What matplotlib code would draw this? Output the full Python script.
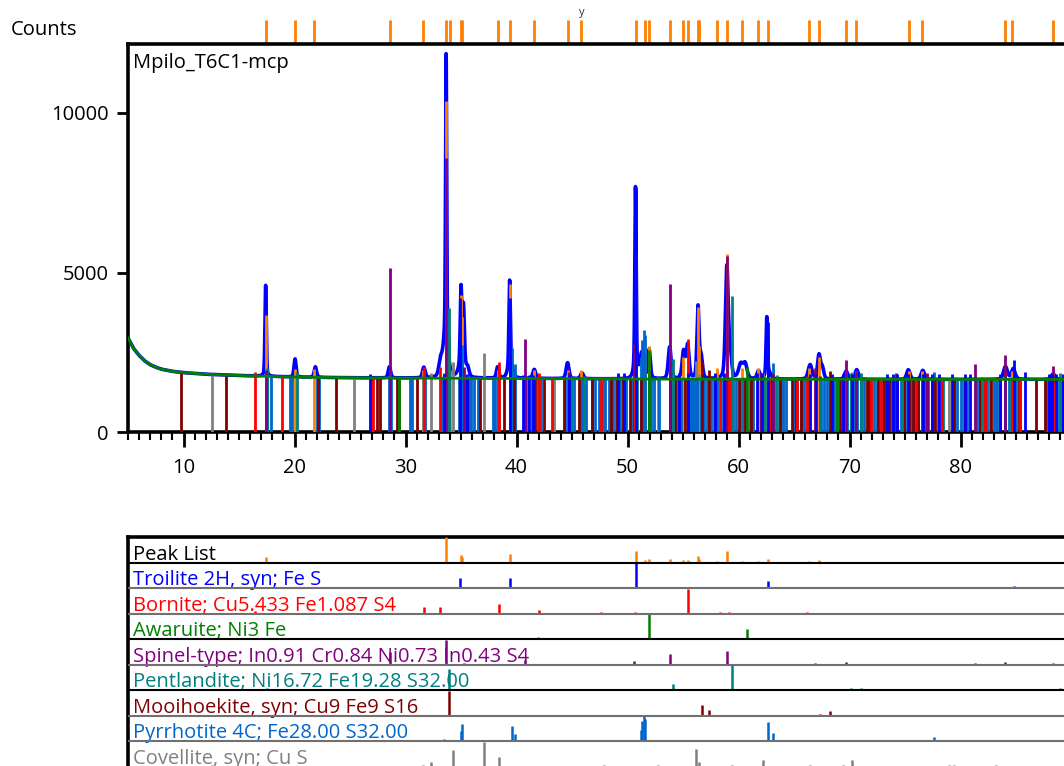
import numpy as np
import matplotlib
matplotlib.use("Agg")
import matplotlib.pyplot as plt
from matplotlib.ticker import MultipleLocator
from matplotlib.transforms import blended_transform_factory

plt.rcParams['font.family'] = ['Open Sans', 'DejaVu Sans']

# ---------------- background (2theta, counts) ----------------
bg_theta = [5, 5.5, 6, 6.5, 7, 7.5, 8, 9, 10, 12, 15, 20, 25, 30, 40, 50, 60, 70, 90]
bg_counts = [2950, 2620, 2400, 2230, 2110, 2030, 1970, 1900, 1860, 1810, 1770,
             1720, 1700, 1690, 1680, 1660, 1655, 1650, 1650]

# ---------------- measured reflections: position, net height, FWHM ----------------
meas_pos = [17.40, 20.05, 21.88, 28.55, 31.65, 33.15, 33.66, 33.60, 35.00, 35.22,
            35.10, 35.60, 38.30, 39.38, 39.45, 41.60, 44.60, 45.90, 50.72, 50.75,
            51.30, 51.95, 53.80, 55.05, 55.42, 56.35, 56.62, 58.95, 59.25, 60.20,
            60.60, 61.80, 62.55, 62.70, 66.45, 67.25, 67.55, 69.70, 70.65, 75.30,
            76.60, 84.05, 84.75, 88.35]
meas_height = [2850, 570, 330, 350, 330, 450, 8900, 1300, 2300, 1800,
               500, 250, 350, 2700, 400, 280, 500, 180, 5700, 300,
               800, 900, 1000, 850, 1050, 2200, 700, 3500, 700, 450,
               450, 250, 1800, 200, 450, 750, 350, 250, 300, 300,
               280, 400, 330, 170]
meas_fwhm = [0.14, 0.22, 0.25, 0.25, 0.28, 0.35, 0.12, 0.50, 0.16, 0.20,
             0.60, 0.30, 0.25, 0.15, 0.50, 0.30, 0.30, 0.30, 0.14, 0.45,
             0.40, 0.25, 0.30, 0.30, 0.30, 0.22, 0.30, 0.30, 0.30, 0.45,
             0.40, 0.30, 0.15, 0.50, 0.40, 0.30, 0.30, 0.35, 0.35, 0.35,
             0.35, 0.40, 0.40, 0.40]

# ---------------- peak list ----------------
pk_pos = [17.39, 20.09, 21.80, 28.56, 31.62, 33.67, 34.05, 34.98, 35.12, 38.29,
          39.42, 41.62, 44.60, 45.85, 50.73, 51.59, 51.96, 53.80, 55.03, 55.42,
          56.35, 56.45, 58.03, 58.99, 60.34, 61.78, 62.63, 66.38, 67.24, 69.66,
          70.62, 75.33, 76.57, 83.99, 84.66, 88.32]
pk_rel = [22, 3, 3, 3, 3, 100, 3, 30, 22, 3,
          34, 3, 3, 3, 45, 8, 12, 12, 8, 8,
          26, 12, 4, 45, 4, 4, 12, 4, 8, 3,
          3, 3, 3, 3, 3, 3]
pk_scale = 8700

# ---------------- reference patterns ----------------
troilite_pos = [26.8, 33.5, 34.95, 35.55, 39.4, 40.6, 41.1, 41.5, 44.7, 49.1,
                49.7, 50.75, 54.65, 55.45, 57.9, 58.7, 61.7, 62.15, 62.65, 66.4,
                66.95, 68.4, 69.4, 70.25, 73.4, 73.9, 74.25, 75.3, 76.6, 77.45,
                78.1, 79.2, 80.45, 80.9, 83.6, 84.8, 85.8, 88.0, 88.25, 88.6, 89.25]
troilite_rel = [2, 2, 42, 2, 42, 2, 2, 2, 2, 3,
                3, 100, 3, 3, 3, 3, 3, 3, 30, 3,
                3, 3, 3, 3, 3, 3, 3, 3, 3, 3,
                3, 3, 3, 3, 3, 10, 4, 3, 3, 3, 3]

bornite_pos = [16.45, 18.9, 26.9, 27.1, 31.7, 33.15, 38.45, 42.0, 43.2, 47.6,
               50.65, 55.45, 58.3, 59.15, 62.75, 65.3, 66.15, 69.5, 71.9, 72.8,
               75.95, 78.35, 82.25, 84.65, 85.4, 88.45]
bornite_rel = [10, 3, 2, 2, 28, 28, 40, 15, 3, 5,
               5, 100, 5, 5, 3, 3, 8, 4, 4, 4,
               3, 4, 4, 4, 4, 4]

awaruite_pos = [29.4, 41.95, 51.98, 60.75, 68.85, 76.55]
awaruite_rel = [2, 10, 100, 42, 6, 6]

spinel_pos = [17.45, 28.6, 33.65, 35.25, 40.8, 44.7, 50.57, 53.8, 59.0, 62.0,
              63.1, 66.9, 69.7, 70.6, 74.2, 77.0, 81.35, 84.0, 88.35]
spinel_rel = [3, 50, 100, 5, 18, 3, 16, 43, 56, 3,
              3, 5, 9, 4, 3, 3, 7, 11, 6]

pentl_pos = [17.5, 20.2, 33.9, 35.4, 41.0, 44.9, 46.1, 50.9, 54.1, 59.4,
             62.4, 63.5, 67.3, 70.1, 71.05, 74.75, 77.45, 78.45, 81.9, 84.5, 88.95]
pentl_rel = [10, 6, 85, 3, 3, 3, 3, 3, 24, 100,
             3, 5, 3, 8, 8, 3, 3, 3, 3, 3, 8]

mooih_pos = [9.75, 13.8, 22.1, 23.7, 27.4, 27.7, 29.25, 29.4, 31.05, 33.95,
             35.55, 36.75, 38.9, 39.75, 40.75, 41.7, 42.45, 44.25, 44.85, 45.6,
             46.8, 48.5, 49.05, 49.6, 50.2, 50.7, 51.25, 53.8, 54.3, 55.2,
             56.7, 57.3, 58.7, 59.3, 60.0, 60.6, 61.1, 62.0, 62.9, 63.7,
             64.85, 65.2, 65.65, 66.25, 67.3, 68.25, 69.1, 71.55, 71.75, 72.6,
             73.15, 73.6, 74.3, 74.9, 75.35, 75.7, 76.15, 76.55, 77.0, 77.7,
             78.35, 79.4, 80.45, 81.8, 82.25, 82.75, 83.6, 85.3, 86.8, 87.65,
             88.4, 89.15]
mooih_rel = [2, 2, 2, 1, 1, 1, 1, 1, 2, 100,
             3, 2, 3, 3, 3, 3, 3, 3, 3, 3,
             3, 3, 3, 3, 3, 3, 3, 3, 3, 3,
             43, 23, 3, 3, 3, 3, 3, 3, 3, 3,
             3, 3, 3, 3, 8, 20, 3, 3, 3, 3,
             3, 3, 3, 3, 3, 3, 3, 3, 3, 3,
             3, 3, 3, 3, 3, 3, 3, 3, 3, 3,
             3, 3]

pyrr_pos = [33.45, 35.0, 35.1, 39.6, 39.85, 51.2, 51.35, 51.5, 51.62, 62.7, 63.1, 77.6]
pyrr_rel = [10, 40, 68, 62, 30, 45, 80, 100, 90, 75, 33, 15]
pyrr_minor_pos = [17.5, 17.9, 19.6, 19.8, 22.0, 22.2, 28.5, 28.7, 30.4, 30.6,
                  31.8, 33.3, 34.8, 35.7, 35.9, 36.2, 36.5, 37.9, 38.1, 38.3,
                  41.4, 42.2, 44.4, 44.6, 44.9, 45.2, 45.8, 46.0, 46.3, 46.8,
                  47.1, 47.4, 47.7, 48.0, 48.3, 48.7, 49.0, 49.3, 49.6, 49.9,
                  50.45, 50.7, 51.9, 52.1, 52.4, 52.8, 53.9, 54.2, 54.5, 54.8,
                  55.5, 55.7, 55.9, 56.1, 56.3, 56.6, 56.9, 57.2, 57.5, 57.8,
                  58.1, 58.4, 58.7, 59.0, 59.5, 59.8, 60.1, 60.4, 60.7, 61.0,
                  61.3, 62.9, 63.4, 63.7, 64.0, 64.3, 65.0, 65.3, 65.6, 65.9,
                  66.2, 67.4, 67.7, 68.0, 68.3, 68.6, 68.9, 69.5, 69.8, 70.1,
                  70.4, 70.7, 71.0, 71.3, 72.2, 72.5, 72.8, 73.1, 73.4, 73.7,
                  74.0, 74.3, 74.6, 74.9, 75.2, 75.5, 75.8, 76.2, 76.5, 76.8,
                  77.1, 77.4, 78.0, 79.4, 79.7, 80.0, 80.3, 80.6, 81.5, 81.8,
                  82.1, 82.4, 82.7, 83.0, 83.3, 83.6, 84.05, 84.4, 84.7, 85.0,
                  85.4, 87.8, 88.1, 88.4, 88.7, 89.0, 89.3]
pyrr_minor_rel = 3

covel_pos = [12.6, 25.4, 29.3, 31.6, 32.3, 34.25, 37.1, 38.45, 43.4, 47.9,
             52.75, 56.2, 56.4, 59.4, 62.2, 64.0, 65.7, 66.4, 69.4, 70.25,
             71.9, 76.5, 79.0, 79.4, 83.2, 84.5]
covel_rel = [5, 1, 4, 8, 20, 65, 100, 40, 3, 5,
             8, 70, 20, 8, 25, 4, 4, 5, 5, 28,
             4, 4, 5, 5, 5, 4]

row_labels = ["Peak List",
              "Troilite 2H, syn; Fe S",
              "Bornite; Cu5.433 Fe1.087 S4",
              "Awaruite; Ni3 Fe",
              "Spinel-type; In0.91 Cr0.84 Ni0.73 In0.43 S4",
              "Pentlandite; Ni16.72 Fe19.28 S32.00",
              "Mooihoekite, syn; Cu9 Fe9 S16",
              "Pyrrhotite 4C; Fe28.00 S32.00",
              "Covellite, syn; Cu S"]

ORANGE = '#FF8000'
phases = [
    # label index, colour, positions, relative intensities, main-plot scale
    (1, '#0000FF', troilite_pos, troilite_rel, 6000),
    (2, '#FF0000', bornite_pos, bornite_rel, 1250),
    (3, '#008000', awaruite_pos, awaruite_rel, 900),
    (4, '#800080', spinel_pos, spinel_rel, 6900),
    (5, '#008080', pentl_pos, pentl_rel, 2600),
    (6, '#800000', mooih_pos, mooih_rel, 1300),
    (7, '#0066CC', pyrr_pos + pyrr_minor_pos,
     pyrr_rel + [pyrr_minor_rel] * len(pyrr_minor_pos), 1550),
    (8, '#808080', covel_pos, covel_rel, 800),
]
row_colors = ['black', '#0000FF', '#FF0000', '#008000', '#800080',
              '#008080', '#800000', '#0066CC', '#808080']
# order in which stick sets are layered in the scan panel
draw_order = [8, 7, 6, 5, 4, 3, 2, 1]


def pseudo_voigt(x, x0, h, w, eta=0.5):
    d = (x - x0) / w
    return h * (eta / (1 + 4 * d * d) + (1 - eta) * np.exp(-4 * np.log(2) * d * d))


def background(x):
    return np.interp(x, bg_theta, bg_counts)


theta = np.arange(5.0, 90.0001, 0.01)
bg_line = background(theta)
scan = bg_line.copy()
for p, h, w in zip(meas_pos, meas_height, meas_fwhm):
    scan += pseudo_voigt(theta, p, h, w, eta=0.35)

W, H = 1064, 766
fig = plt.figure(figsize=(W / 100, H / 100), dpi=100)

FS = 14.5
px_per_deg = 11.1
x0, x1 = 5, 90
ax_left = 128 / W
ax_width = (x1 - x0) * px_per_deg / W

# ---------------- scan panel ----------------
ax = fig.add_axes([ax_left, (H - 432) / H, ax_width, 388 / H])
ax.set_xlim(x0, x1)
ax.set_ylim(0, 388 / 31.9 * 1000)

ax.plot(theta, scan, color='#0000FF', lw=2.6, zorder=2, solid_joinstyle='round')

pk_arr = np.array(pk_pos)
ax.vlines(pk_arr, 0, background(pk_arr) + np.array(pk_rel) / 100 * pk_scale,
          colors=ORANGE, lw=2.0, zorder=4)

phase_by_idx = {ph[0]: ph for ph in phases}
for z, idx in enumerate(draw_order):
    _, col, pos, rel, scale = phase_by_idx[idx]
    pos = np.array(pos)
    top = background(pos) + np.array(rel) / 100 * scale
    ax.vlines(pos, 0, top, colors=col, lw=2.0, zorder=5 + z * 0.1)

ax.plot(theta, bg_line, color='#008000', lw=2.0, zorder=7)

for s in ['left', 'top', 'bottom']:
    ax.spines[s].set_linewidth(2.6)
    ax.spines[s].set_color('black')
ax.spines['right'].set_visible(False)

ax.set_xticks(range(10, 90, 10))
ax.xaxis.set_minor_locator(MultipleLocator(1))
ax.set_yticks([0, 5000, 10000])
ax.tick_params(axis='x', which='major', length=11, width=2, pad=8, labelsize=FS)
ax.tick_params(axis='x', which='minor', length=6, width=1.5)
ax.tick_params(axis='y', which='major', length=8, width=2, pad=6, labelsize=FS)

# peak-list markers above the frame
trans = blended_transform_factory(ax.transData, ax.transAxes)
ax.vlines(pk_pos, 1.0, 1 + 24 / 388, transform=trans, colors=ORANGE, lw=2.0,
          clip_on=False, zorder=1)
ax.text(45.85, 1 + 31 / 388, 'y', transform=trans, ha='center', va='center',
        fontsize=8, color='#333333')

ax.text(5 / ((x1 - x0) * px_per_deg), 1 - 19 / 388, 'Mpilo_T6C1-mcp',
        transform=ax.transAxes, ha='left', va='center', fontsize=FS)
fig.text(11 / W, 1 - 30 / H, 'Counts', ha='left', va='center', fontsize=FS)

# ---------------- pattern list panel ----------------
row_h_px = 25.5
n_rows = len(row_labels)
ax2 = fig.add_axes([ax_left, (H - 537 - n_rows * row_h_px) / H, ax_width,
                    n_rows * row_h_px / H])
ax2.set_xlim(x0, x1)
ax2.set_ylim(0, n_rows)
ax2.set_xticks([])
ax2.set_yticks([])
ax2.spines['left'].set_linewidth(2.6)
ax2.spines['top'].set_linewidth(2.6)
ax2.spines['right'].set_visible(False)
ax2.spines['bottom'].set_visible(False)

sep_colors = ['black', '#707070', '#707070', 'black', '#707070', 'black',
              '#707070', '#707070']
for i in range(n_rows - 1):
    ax2.axhline(n_rows - 1 - i, color=sep_colors[i], lw=1.5, zorder=4)

for i, lab in enumerate(row_labels):
    base = n_rows - 1 - i
    ax2.text(5 + 5 / px_per_deg, base + 0.1, lab, color=row_colors[i],
             ha='left', va='baseline', fontsize=FS, zorder=2)

ax2.vlines(pk_pos, n_rows - 1, n_rows - 1 + np.array(pk_rel) / 100 * 1.0,
           colors=ORANGE, lw=1.8, zorder=3)
for idx, col, pos, rel, _ in phases:
    base = n_rows - 1 - idx
    ax2.vlines(pos, base, base + np.array(rel) / 100 * 0.97, colors=col,
               lw=1.8, zorder=3)

fig.savefig('out.png', dpi=100)
